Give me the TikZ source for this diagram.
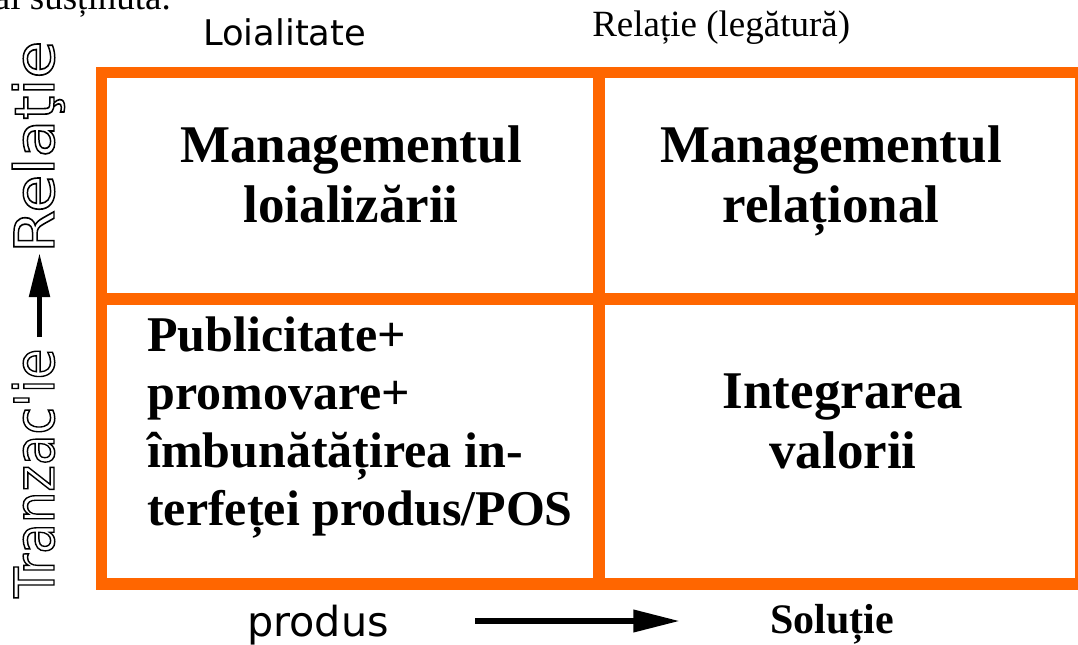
\documentclass[tikz,border=0pt]{standalone}
\usepackage{fontspec}
\usepackage{graphicx}
\setmainfont{Liberation Serif}
\newfontfamily\djv{DejaVu Sans}
\usetikzlibrary{arrows.meta}
\definecolor{orng}{HTML}{FF6600}
\newcommand{\outlinetext}[1]{\special{pdf:literal direct 1 Tr 1.1 w}#1\special{pdf:literal direct 0 Tr}}
\begin{document}
\begin{tikzpicture}[x=0.75pt,y=-0.75pt,
  gridline/.style={draw=orng,line width=8.5pt},
  cellbig/.style={font=\bfseries\fontsize{39.75}{45}\selectfont,align=center,inner sep=0pt,anchor=base},
  cellleft/.style={font=\bfseries\fontsize{37.5}{43.5}\selectfont,align=left,inner sep=0pt,anchor=base west},
  plainlab/.style={inner sep=0pt},
  axisarrow/.style={line width=4.5pt,-{Triangle[length=35pt,width=16pt]}},
  varrow/.style={line width=4pt,-{Triangle[length=33pt,width=15pt]}},
  vlab/.style={font=\djv\fontsize{41.25}{44}\selectfont,rotate=90,inner sep=0pt,anchor=base west}]
\useasboundingbox (0,0) rectangle (1078,644);
% partial text at top
\node[plainlab,font=\fontsize{27.75}{30}\selectfont,anchor=base east] (prev) at (171,9) {ai susținută.};
\node[plainlab,font=\djv\fontsize{26.5}{28}\selectfont,anchor=base west] (loial) at (203,45) {Loialitate};
\node[plainlab,font=\fontsize{27.75}{30}\selectfont,anchor=base west] (rel) at (592,36) {Relație (legătură)};
% grid
\draw[gridline] (101.5,72.5) rectangle (1081,584);
\draw[gridline] (599,72.5) -- (599,584);
\draw[gridline] (101.5,299) -- (1081,299);
% cells
\node[cellbig] (tl) at (351,222) {Managementul\\loializării};
\node[cellbig] (tr) at (831,222) {Managementul\\relațional};
\node[cellbig] (br) at (843,468) {Integrarea\\valorii};
\node[cellleft] (bl) at (147,525) {Publicitate+\\promovare+\\îmbunătățirea in-\\terfeței produs/POS};
% bottom axis
\node[plainlab,font=\djv\fontsize{31}{34}\selectfont,anchor=base west] (prod) at (247,636) {produs};
\node[plainlab,font=\bfseries\fontsize{31.5}{34}\selectfont,anchor=base west] (sol) at (770,633) {Soluție};
\coordinate (h1) at (475,621);
\coordinate (h2) at (680,621);
\draw[axisarrow] (h1) -- (h2);
% vertical axis
\node[vlab] (tranz) at (54,598) {\scalebox{0.91}[1]{\outlinetext{Tranzac\textquotesingle ie}}};
\node[vlab] (relv) at (54,253) {\scalebox{1.12}[1]{\outlinetext{Relaţie}}};
\coordinate (v1) at (39.5,337);
\coordinate (v2) at (39.5,253);
\draw[varrow] (v1) -- (v2);
\end{tikzpicture}
\end{document}
